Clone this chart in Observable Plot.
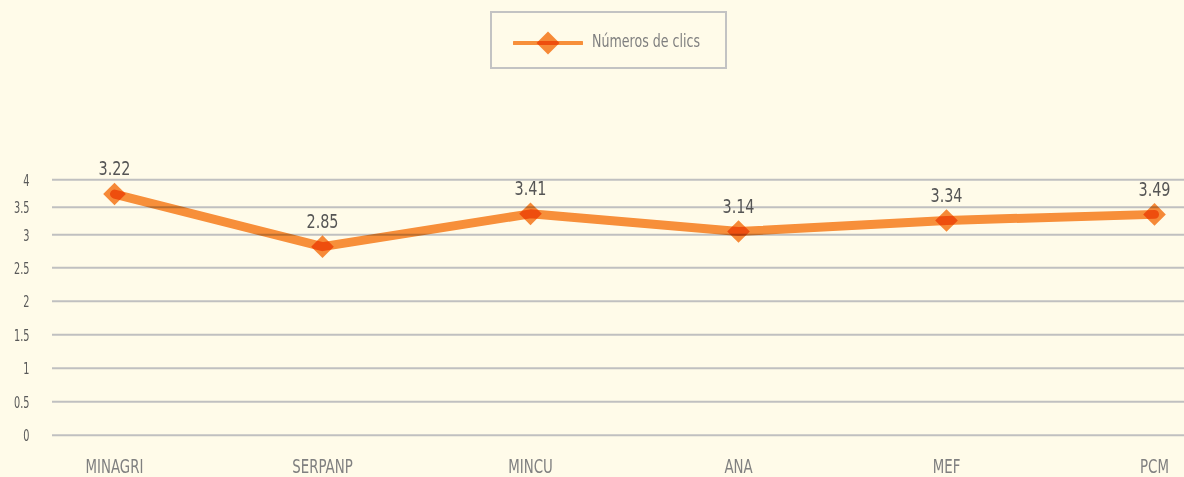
<!DOCTYPE html>
<html>
<head>
<meta charset="utf-8">
<script src="https://cdn.jsdelivr.net/npm/d3@7"></script>
<script src="https://cdn.jsdelivr.net/npm/@observablehq/plot@0.6"></script>
<style>
  html, body { margin: 0; padding: 0; background: #fffbe9; }
  body { width: 1184px; height: 477px; overflow: hidden; font-family: "DejaVu Sans Condensed", "Liberation Sans", sans-serif; }
  #legend { position: relative; height: 80px; }
  #legend .box { position: absolute; left: 490px; top: 11px; width: 237px; height: 58px; box-sizing: border-box; border: 2px solid #c3c3c3; }
  #legend svg { position: absolute; left: 21px; top: 16px; }
  #legend .label { position: absolute; left: 100px; top: 17px; font-size: 18px; color: #7f7f7f; line-height: 22px; white-space: nowrap; transform: scaleX(0.78); transform-origin: 0 50%; }
</style>
</head>
<body>
<div id="legend"></div>
<div id="chart"></div>
<script>
const categories = ["MINAGRI", "SERPANP", "MINCU", "ANA", "MEF", "PCM"];
const plottedValues = [3.74, 2.82, 3.38, 3.06, 3.26, 3.37];
const labelTexts = ["3.22", "2.85", "3.41", "3.14", "3.34", "3.49"];
const yTicks = [0, 0.5, 1, 1.5, 2, 2.5, 3, 3.5, 4];
const seriesName = "Números de clics";

const lineColor = "#f7913f";
const markerColor = "#f68b3c";
const fontStack = "'DejaVu Sans Condensed', 'Liberation Sans', sans-serif";

const data = categories.map((c, i) => ({cat: c, value: plottedValues[i], label: labelTexts[i]}));

// Legend (HTML above the SVG)
const legend = document.getElementById("legend");
legend.innerHTML = `<div class="box">
  <svg width="70" height="30" viewBox="0 0 70 30">
    <path d="M35,2.5 L46.5,14 L35,25.5 L23.5,14 Z" fill="${markerColor}" style="mix-blend-mode:multiply"></path>
    <line x1="1" y1="14" x2="69" y2="14" stroke="${lineColor}" stroke-width="4" stroke-linecap="round" style="mix-blend-mode:multiply"></line>
  </svg>
  <div class="label">${seriesName}</div>
</div>`;

const plot = Plot.plot({
  width: 1184,
  height: 397,
  marginLeft: 52,
  marginRight: 0,
  marginTop: 0,
  marginBottom: 42,
  style: {background: "transparent", fontFamily: fontStack},
  x: {type: "point", domain: categories, range: [113, 1155], padding: 0},
  y: {type: "linear", domain: [0, 2.5, 3, 3.5, 4], range: [354.7, 187.3, 154.3, 126.7, 99.3]},
  marks: [
    Plot.ruleY(yTicks, {stroke: "#c0c0c0", strokeWidth: 2}),
    Plot.axisY({ticks: yTicks, tickSize: 0, tickPadding: 23, fontSize: 15, color: "#595959", label: null, tickFormat: d => String(d), dy: 1}),
    Plot.axisX({tickSize: 0, tickPadding: 24, fontSize: 19, color: "#808080", label: null}),
    Plot.dot(data, {x: "cat", y: "value", symbol: "diamond2", r: 10.2, fill: markerColor, stroke: "none", mixBlendMode: "multiply"}),
    Plot.line(data, {x: "cat", y: "value", stroke: lineColor, strokeWidth: 9, strokeLinecap: "round", strokeLinejoin: "round", mixBlendMode: "multiply"}),
    Plot.text(data, {x: "cat", y: "value", text: "label", dy: -25, fontSize: 20, fill: "#555555"})
  ]
});
document.getElementById("chart").appendChild(plot);

// emulate the condensed typeface of the original
function condense(selector, factor) {
  plot.querySelectorAll(selector).forEach(t => {
    const L = t.getComputedTextLength();
    t.setAttribute("textLength", (L * factor).toFixed(2));
    t.setAttribute("lengthAdjust", "spacingAndGlyphs");
  });
}
condense('g[aria-label="y-axis tick label"] text', 0.72);
condense('g[aria-label="x-axis tick label"] text', 0.78);
condense('g[aria-label="text"] text', 0.8);
</script>
</body>
</html>
